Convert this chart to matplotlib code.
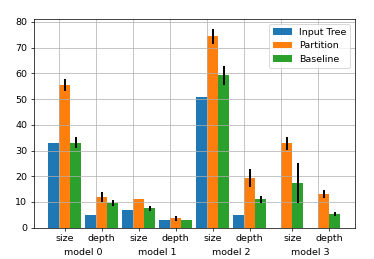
import numpy as np
import matplotlib
matplotlib.use("Agg")
import matplotlib.pyplot as plt

models = ["model 0", "model 1", "model 2", "model 3"]
metrics = ["size", "depth"]
series = ["Input Tree", "Partition", "Baseline"]

# values per (model, metric): size, depth for each model
input_tree = [33.0, 5.0, 7.0, 3.0, 51.0, 4.9, np.nan, np.nan]
partition = [55.4, 12.0, 11.0, 3.7, 74.4, 19.2, 32.8, 13.0]
baseline = [33.0, 9.6, 7.5, 2.9, 59.3, 11.0, 17.5, 5.4]

partition_err = [2.3, 1.9, 0.0, 0.9, 2.9, 3.5, 2.4, 1.6]
baseline_err = [2.1, 1.1, 0.9, 0.0, 3.7, 1.2, 7.8, 0.9]

plt.rcParams["font.size"] = 10.5
DPI = 65
fig = plt.figure(figsize=(374 / DPI, 259 / DPI), dpi=DPI)
ax = fig.add_axes([33.5 / 374, 1 - 227.7 / 259, (355 - 33.5) / 374, (227.7 - 19) / 259])

w = 0.3
x = np.arange(len(partition))
vals = [input_tree, partition, baseline]
errs = [None, partition_err, baseline_err]
offsets = [-w, 0, w]
colors = ["C0", "C1", "C2"]
centers = []
for v, e, off, c, lab in zip(vals, errs, offsets, colors, series):
    ax.bar(x + off, v, w, align="edge", yerr=e, color=c, label=lab,
           error_kw=dict(ecolor="k", elinewidth=2.2))
    centers.append(x + off + w / 2)

centers = np.array(centers)
present = ~np.isnan(np.array(vals, dtype=float))
tick_pos = np.array([centers[present[:, i], i].mean() for i in range(len(x))])

ax.set_xticks(tick_pos)
ax.set_xticklabels(metrics * len(models))
ax.set_xticks(x, minor=True)
ax.tick_params(axis="x", which="minor", length=0)
ax.grid(True, axis="x", which="minor")
ax.grid(True, axis="y", which="major")
ax.set_yticks(np.arange(0, 81, 10))

for m, name in enumerate(models):
    mx = tick_pos[2 * m:2 * m + 2].mean()
    ax.annotate(name, xy=(mx, 0), xycoords=("data", "axes fraction"),
                xytext=(0, -27), textcoords="offset points",
                ha="center", va="center")

ax.legend(loc="upper right")
fig.savefig("out.png", dpi=DPI)
